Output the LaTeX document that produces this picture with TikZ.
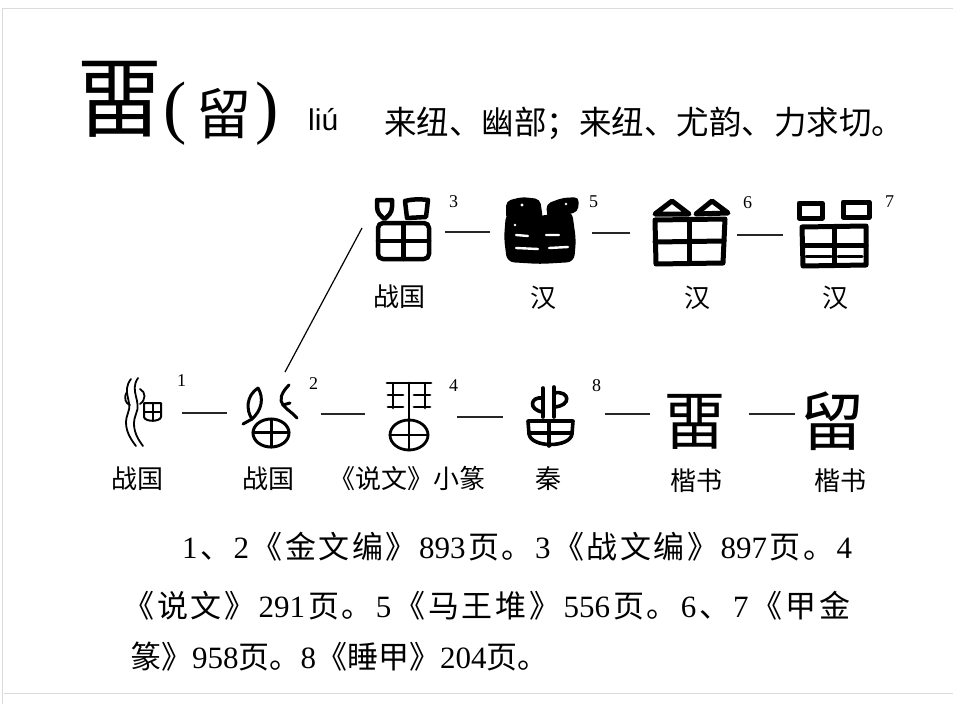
\documentclass[tikz,border=0pt]{standalone}
\usepackage{fontspec}
\setmainfont{Liberation Serif}
\newfontfamily\cjk{Noto Sans CJK SC}
\newfontfamily\lsans{Liberation Sans}
\newcommand\dg[1]{{\rmfamily #1}}
\begin{document}
\begin{tikzpicture}[x=1pt,y=-1pt,
  glyph/.style={line width=4pt, line cap=round, line join=round, draw=black},
  thinglyph/.style={line width=2.6pt, line cap=round, line join=round, draw=black},
  link/.style={line width=1.5pt, draw=black!85},
  lab/.style={font=\cjk\fontsize{26}{26}\selectfont, anchor=base, inner sep=0pt},
  sup/.style={font=\fontsize{18}{18}\selectfont, anchor=base west, inner sep=0pt},
  note/.style={font=\cjk\fontsize{31}{31}\selectfont, anchor=base west, inner sep=0pt},
  frame/.style={draw=black!14, line width=1pt}]
\useasboundingbox (0,0) rectangle (953,704);
\fill[white] (0,0) rectangle (953,704);
\draw[frame] (2.5,704) -- (2.5,8) -- (953,8);
\draw[frame] (4,693) -- (953,693);

% heading
\node[inner sep=0pt, anchor=base, font=\cjk\fontsize{87}{87}\selectfont] (head) at (120,130) {畱};
\node[inner sep=0pt, anchor=base west, font=\fontsize{70}{70}\selectfont] (lp) at (163,130) {(};
\node[inner sep=0pt, anchor=base, font=\cjk\fontsize{55}{55}\selectfont] (headalt) at (224,134) {留};
\node[inner sep=0pt, anchor=base west, font=\fontsize{70}{70}\selectfont] (rp) at (255,130) {)};
\node[inner sep=0pt, anchor=base west, font=\lsans\fontsize{30}{30}\selectfont] (pinyin) at (308,130) {liú};
\node[inner sep=0pt, anchor=base west, font=\cjk\fontsize{32.5}{32.5}\selectfont] (fanqie) at (384,134) {来纽、幽部；来纽、尤韵、力求切。};

% ---- top row glyphs ----
% 3
\begin{scope}[glyph, line width=4.5pt]
\draw (377,200) -- (392,200) -- (392,207) .. controls (392,213) and (388,216) .. (384.5,219) .. controls (381,216) and (377,213) .. (377,207) -- cycle;
\draw (405,201) .. controls (412,199) and (420,199) .. (428,200) -- (426,217) -- (407,218) -- cycle;
\draw[rounded corners=5pt] (378,223) rectangle (429,259);
\draw (403.5,223) -- (403.5,259);
\draw (378,241) -- (429,241);
\end{scope}
% 5
\fill[black, rounded corners=7pt] (506,213) -- (540,216) -- (572,211) -- (576,240) -- (574,262) -- (540,264) -- (507,262) -- (504,238) -- cycle;
\fill[black, rounded corners=5pt] (506,201) -- (522,197) -- (540,199) -- (543,219) -- (506,220) -- cycle;
\fill[black, rounded corners=5pt] (546,204) -- (562,198) -- (579,197) -- (578,212) -- (560,216) -- (548,221) -- cycle;
\draw[white, line width=2.4pt, line cap=round] (516,235) -- (528,236) (546,235) -- (559,235) (516,248) -- (538,249) (549,248) -- (568,247);
\fill[white] (522,205) circle (1.6) (566,204) circle (1.4) (515,225) circle (1.3);
% 6
\begin{scope}[glyph, line width=5pt]
\draw (655,214) -- (672,201) -- (689,214) -- cycle;
\draw (696,214) -- (712,201) -- (728,213) -- cycle;
\draw (655,220) -- (725,219) -- (723,263) -- (656,264) -- cycle;
\draw (689.5,220) -- (689.5,263);
\draw (655,242) -- (724,241);
\end{scope}
% 7
\begin{scope}[glyph, line width=5pt]
\draw (799,203) rectangle (822,218);
\draw (843,202) rectangle (869,217);
\draw (802,227) -- (866,226) -- (866,265) -- (803,266) -- cycle;
\draw (834,227) -- (834,265);
\draw (803,245) -- (866,245);
\draw[line width=3pt] (806,256) -- (831,256) (838,256) -- (862,256);
\end{scope}

% ---- bottom row glyphs ----
% 1
\begin{scope}[thinglyph, line width=1.8pt]
\draw (131,379) .. controls (121,392) and (133,401) .. (128,413) .. controls (123,425) and (128,436) .. (136,446);
\draw (138,378) .. controls (129,391) and (142,401) .. (136,414) .. controls (131,426) and (136,437) .. (143,446);
\draw (127,392) .. controls (123,398) and (126,404) .. (130,405);
\draw (140,389) .. controls (146,392) and (146,400) .. (140,404);
\draw[line width=2pt] (144,403) -- (161,403) -- (161,417) .. controls (160,422) and (145,422) .. (144,417) -- cycle;
\draw[line width=2pt] (152.5,403) -- (152.5,421) (144,412) -- (161,412);
\end{scope}
% 2
\begin{scope}[thinglyph, line width=3pt]
\draw (258,388) .. controls (246,396) and (246,410) .. (252,419);
\draw (258,388) .. controls (264,398) and (262,410) .. (252,419);
\draw (252,419) -- (243,424);
\draw (289,385) .. controls (281,393) and (279,400) .. (283,405) .. controls (287,410) and (293,413) .. (297,418);
\draw (283,405) -- (290,403);
\draw (271,433) ellipse [x radius=18, y radius=14];
\draw (253,432) -- (289,432) (271,419) -- (271,447);
\end{scope}
% 4
\begin{scope}[thinglyph, line width=2.8pt]
\draw (387,383) -- (431,383);
\draw (393,384) -- (393,408) (388,395) -- (403,395) (388,407) -- (403,407);
\draw (425,384) -- (425,408) (414,395) -- (430,395) (414,407) -- (430,407);
\draw (409,383) -- (409,450);
\draw (409,435) ellipse [x radius=19, y radius=15];
\draw (390,435) -- (428,435);
\end{scope}
% 8
\begin{scope}[glyph, line width=3.6pt]
\draw (543,388) -- (543,417);
\draw (543,398) .. controls (530,396) and (528,410) .. (543,412);
\draw (554,387) -- (554,417);
\draw (554,393) .. controls (570,390) and (572,406) .. (554,407);
\draw (528,421) -- (573,421) -- (572,434) .. controls (570,448) and (531,448) .. (529,434) -- cycle;
\draw (549,421) -- (549,446) (529,433) -- (572,433);
\end{scope}
% kaishu
\node[inner sep=0pt, anchor=base, font=\cjk\fontsize{63}{63}\selectfont] (k1) at (695,444) {畱};
\node[inner sep=0pt, anchor=base, font=\cjk\fontsize{64}{64}\selectfont] (k2) at (832,445) {留};

% superscripts
\node[sup] (s3) at (449,207) {3};
\node[sup] (s5) at (589,207) {5};
\node[sup] (s6) at (743,208) {6};
\node[sup] (s7) at (885,207) {7};
\node[sup] (s1) at (177,386) {1};
\node[sup] (s2) at (309,389) {2};
\node[sup] (s4) at (449,391) {4};
\node[sup] (s8) at (592,391) {8};

% connectors
\coordinate (a1) at (445,232); \coordinate (b1) at (490,232);
\coordinate (a2) at (592,233); \coordinate (b2) at (630,233);
\coordinate (a3) at (737,235); \coordinate (b3) at (783,235);
\coordinate (c1) at (182,413); \coordinate (e1) at (227,413);
\coordinate (c2) at (321,414); \coordinate (e2) at (365,414);
\coordinate (c3) at (457,417); \coordinate (e3) at (503,417);
\coordinate (c4) at (605,414); \coordinate (e4) at (650,414);
\coordinate (c5) at (749,414); \coordinate (e5) at (795,414);
\foreach \p in {1,2,3} \draw[link] (a\p) -- (b\p);
\foreach \p in {1,...,5} \draw[link] (c\p) -- (e\p);
\coordinate (up2) at (285,372); \coordinate (dn3) at (362,228);
\draw[line width=1.2pt] (up2) -- (dn3);

% labels
\node[lab] (l3) at (399,306) {战国};
\node[lab] (l5) at (543,307) {汉};
\node[lab] (l6) at (697,307) {汉};
\node[lab] (l7) at (835,307) {汉};
\node[lab] (l1) at (137,488) {战国};
\node[lab] (l2) at (268,488) {战国};
\node[lab] (l4) at (407,488) {《说文》小篆};
\node[lab] (l8) at (548,488) {秦};
\node[lab] (lk1) at (696,490) {楷书};
\node[lab] (lk2) at (840,490) {楷书};

% notes
\node[note] (n1) at (182,558) {\makebox[670pt][s]{\spaceskip=0pt plus 1fil\relax \dg{1} 、 \dg{2} 《 金 文 编 》 \dg{893} 页 。 \dg{3} 《 战 文 编 》 \dg{897} 页 。 \dg{4}}};
\node[note] (n2) at (123,617) {\makebox[727pt][s]{\spaceskip=0pt plus 1fil\relax 《 说 文 》 \dg{291} 页 。 \dg{5} 《 马 王 堆 》 \dg{556} 页 。 \dg{6} 、 \dg{7} 《 甲 金}};
\node[note] (n3) at (130,668) {篆》\dg{958}页。\dg{8}《睡甲》\dg{204}页。};
\end{tikzpicture}
\end{document}
